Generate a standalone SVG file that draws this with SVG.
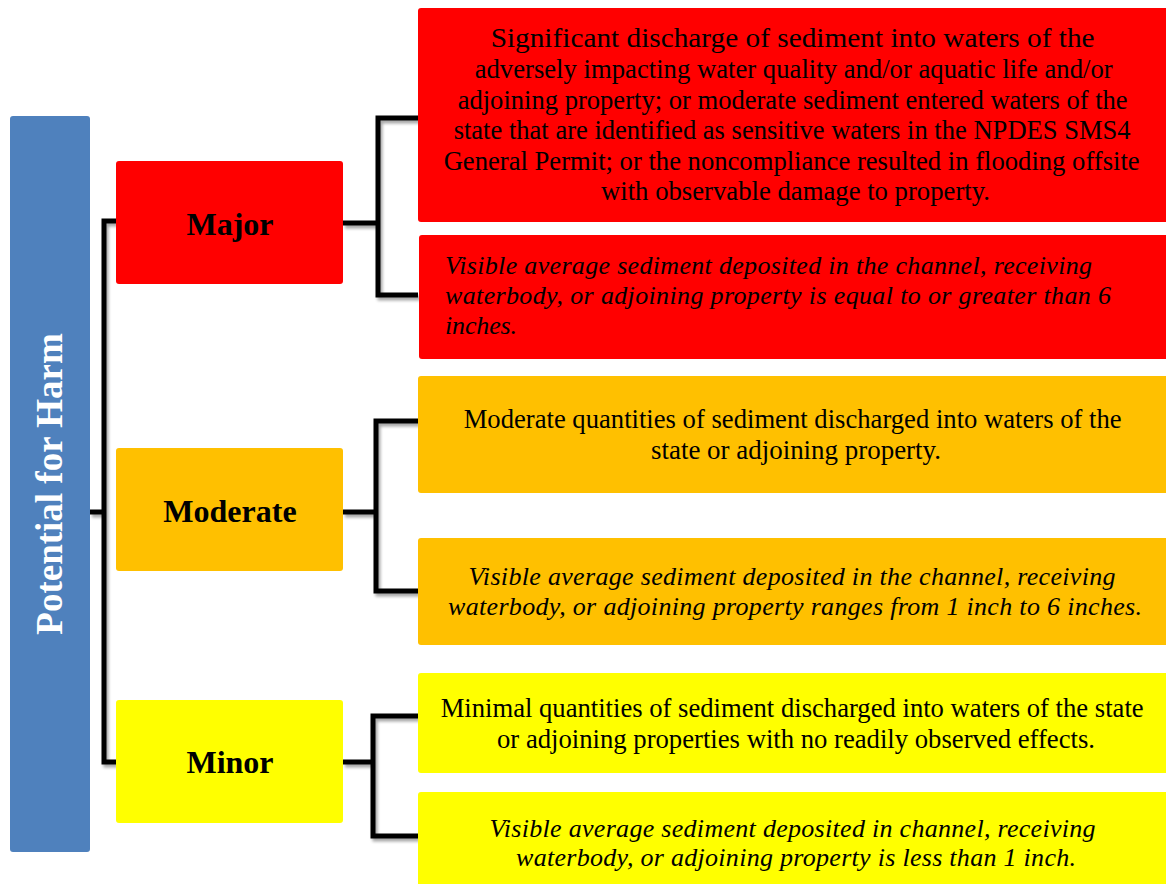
<svg xmlns="http://www.w3.org/2000/svg" width="1166" height="884" viewBox="0 0 1166 884">
  <defs>
    <filter id="shadow" x="-20%" y="-20%" width="140%" height="140%">
      <feGaussianBlur in="SourceAlpha" stdDeviation="1.5"/>
      <feOffset dx="2" dy="3" result="blur"/>
      <feComponentTransfer><feFuncA type="linear" slope="0.35"/></feComponentTransfer>
      <feMerge><feMergeNode/><feMergeNode in="SourceGraphic"/></feMerge>
    </filter>
  </defs>
  <style>
    .txt { font-family: "Liberation Serif", "Times New Roman", serif; fill: #000; }
    .body { font-size: 27px; text-anchor: middle; }
    .ital { font-size: 26px; font-style: italic; }
    .mid { text-anchor: middle; }
    .level { font-size: 32px; font-weight: bold; text-anchor: middle; }
    .title { font-family: "Liberation Serif", "Times New Roman", serif; font-size: 37px; font-weight: bold; fill: #fff; text-anchor: middle; }
    .wire { fill: none; stroke: #000; stroke-width: 5; stroke-linejoin: miter; filter: url(#shadow); }
    .red { fill: #ff0000; }
    .orange { fill: #ffc000; }
    .yellow { fill: #ffff00; }
  </style>

  <rect width="1166" height="884" fill="#fff"/>

  <!-- connectors -->
  <g id="connectors">
    <path class="wire" d="M90,512 H104 M116,221 H104 V762 H116"/>
    <path class="wire" d="M343,223 H378 M418,118 H378 V295 H418"/>
    <path class="wire" d="M343,512 H376 M418,421 H376 V591 H418"/>
    <path class="wire" d="M343,762 H373 M418,716 H373 V836 H418"/>
  </g>

  <!-- root -->
  <g id="root">
    <rect x="10" y="116" width="80" height="736" rx="3" fill="#4f81bd"/>
    <text class="title" transform="translate(62,484) rotate(-90)">Potential for Harm</text>
  </g>

  <!-- severity levels -->
  <g id="major">
    <rect class="red" x="116" y="161" width="227" height="123" rx="3"/>
    <text class="txt level" x="230" y="235">Major</text>
  </g>
  <g id="moderate">
    <rect class="orange" x="116" y="448" width="227" height="123" rx="3"/>
    <text class="txt level" x="230" y="522">Moderate</text>
  </g>
  <g id="minor">
    <rect class="yellow" x="116" y="700" width="227" height="123" rx="3"/>
    <text class="txt level" x="230" y="773">Minor</text>
  </g>

  <!-- descriptions -->
  <g id="major-discharge">
    <rect class="red" x="418" y="8" width="760" height="214" rx="3"/>
    <text class="txt body">
      <tspan x="796" y="47" textLength="604" lengthAdjust="spacingAndGlyphs">Significant discharge of sediment into waters of the</tspan>
      <tspan x="797" y="78" textLength="638" lengthAdjust="spacingAndGlyphs">adversely impacting water quality and/or aquatic life and/or</tspan>
      <tspan x="796" y="109" textLength="670" lengthAdjust="spacingAndGlyphs">adjoining property; or moderate sediment entered waters of the</tspan>
      <tspan x="795.5" y="139" textLength="677" lengthAdjust="spacingAndGlyphs">state that are identified as sensitive waters in the NPDES SMS4</tspan>
      <tspan x="795" y="170" textLength="696" lengthAdjust="spacingAndGlyphs">General Permit; or the noncompliance resulted in flooding offsite</tspan>
      <tspan x="795.5" y="200" textLength="389" lengthAdjust="spacingAndGlyphs">with observable damage to property.</tspan>
    </text>
  </g>
  <g id="major-deposit">
    <rect class="red" x="419" y="235" width="760" height="124" rx="3"/>
    <text class="txt ital">
      <tspan x="445" y="274" textLength="647" lengthAdjust="spacing">Visible average sediment deposited in the channel, receiving</tspan>
      <tspan x="445" y="304" textLength="666" lengthAdjust="spacing">waterbody, or adjoining property is equal to or greater than 6</tspan>
      <tspan x="445" y="334" textLength="72" lengthAdjust="spacing">inches.</tspan>
    </text>
  </g>
  <g id="moderate-discharge">
    <rect class="orange" x="418" y="376" width="760" height="117" rx="3"/>
    <text class="txt body">
      <tspan x="796" y="428" textLength="658" lengthAdjust="spacingAndGlyphs">Moderate quantities of sediment discharged into waters of the</tspan>
      <tspan x="796" y="459" textLength="290" lengthAdjust="spacingAndGlyphs">state or adjoining property.</tspan>
    </text>
  </g>
  <g id="moderate-deposit">
    <rect class="orange" x="418" y="538" width="760" height="107" rx="3"/>
    <text class="txt ital mid">
      <tspan x="795.5" y="585" textLength="647" lengthAdjust="spacing">Visible average sediment deposited in the channel, receiving</tspan>
      <tspan x="795" y="615" textLength="694" lengthAdjust="spacing">waterbody, or adjoining property ranges from 1 inch to 6 inches.</tspan>
    </text>
  </g>
  <g id="minor-discharge">
    <rect class="yellow" x="418" y="673" width="760" height="100" rx="3"/>
    <text class="txt body">
      <tspan x="795.5" y="717" textLength="703" lengthAdjust="spacingAndGlyphs">Minimal quantities of sediment discharged into waters of the state</tspan>
      <tspan x="796" y="748" textLength="598" lengthAdjust="spacingAndGlyphs">or adjoining properties with no readily observed effects.</tspan>
    </text>
  </g>
  <g id="minor-deposit">
    <rect class="yellow" x="418" y="792" width="760" height="110" rx="3"/>
    <text class="txt ital mid">
      <tspan x="796" y="837" textLength="606" lengthAdjust="spacing">Visible average sediment deposited in channel, receiving</tspan>
      <tspan x="796" y="866" textLength="560" lengthAdjust="spacing">waterbody, or adjoining property is less than 1 inch.</tspan>
    </text>
  </g>
</svg>
